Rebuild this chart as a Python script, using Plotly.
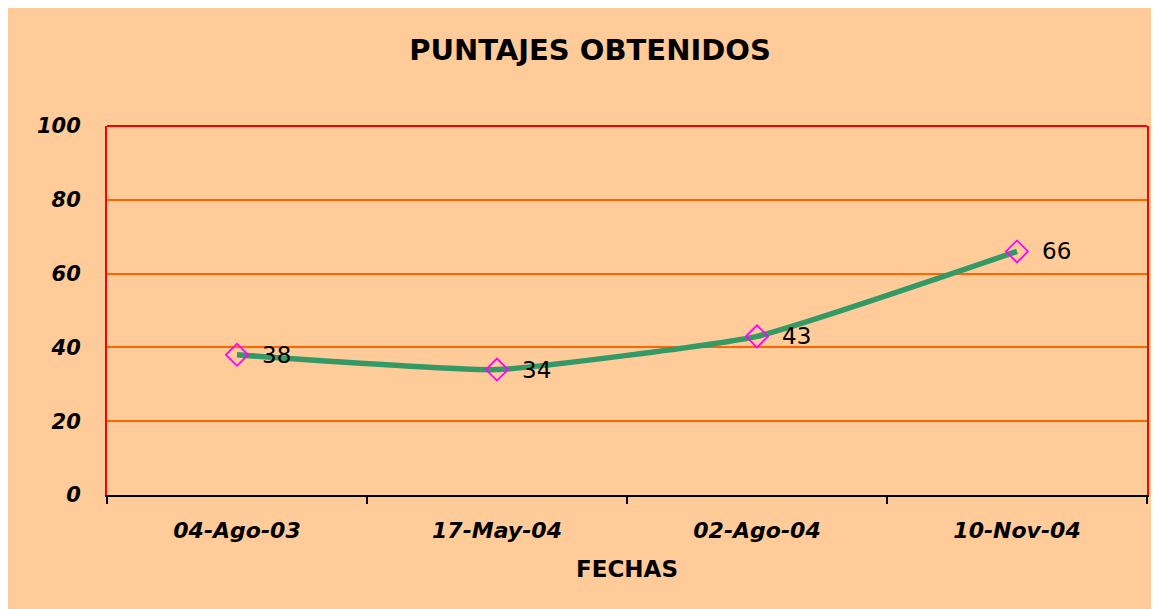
import plotly.graph_objects as go

fechas = ["04-Ago-03", "17-May-04", "02-Ago-04", "10-Nov-04"]
puntajes = [38, 34, 43, 66]
y_ticks = [0, 20, 40, 60, 80, 100]

ORANGE_BG = "#FFCC99"
FONT = "DejaVu Sans, Verdana, Arial"

# page body has an 8px margin; figure extends to the window edges
W, H = 1159, 609
L, T = 99, 118
R = W - 1139
B = H - 487

fig = go.Figure()
fig.add_trace(go.Scatter(
    x=fechas, y=puntajes,
    mode="lines+markers",
    line=dict(color="#339966", width=5.5, shape="spline", smoothing=0.4),
    marker=dict(symbol="diamond-open", size=17, color="#FF00FF", line=dict(width=1.8, color="#FF00FF")),
    cliponaxis=False,
    showlegend=False,
))

annotations = [
    dict(x=f, y=v, xref="x", yref="y", text=str(v), showarrow=False,
         xanchor="left", yanchor="middle", xshift=23, yshift=0,
         font=dict(family=FONT, size=23, color="black"))
    for f, v in zip(fechas, puntajes)
]

fig.update_layout(
    width=W, height=H,
    margin=dict(l=L, r=R, t=T, b=B),
    paper_bgcolor=ORANGE_BG,
    plot_bgcolor=ORANGE_BG,
    title=dict(
        text="<b>PUNTAJES OBTENIDOS</b>",
        x=(590 - 8) / W, xanchor="center", xref="container",
        y=1 - 42 / H, yanchor="middle", yref="container",
        font=dict(family=FONT, size=29, color="black"),
    ),
    font=dict(family=FONT, color="black"),
    annotations=annotations,
    xaxis=dict(
        type="category",
        tickson="boundaries",
        ticks="outside", ticklen=7, tickwidth=1.5, tickcolor="black",
        showline=True, linecolor="black", linewidth=2,
        showgrid=False,
        tickfont=dict(family=FONT, size=22, color="black", style="italic", weight="bold"),
        ticklabelstandoff=15,
        title=dict(text="<b>FECHAS</b>", font=dict(family=FONT, size=23, color="black"), standoff=18),
        range=[-0.5, 3.5],
        fixedrange=True,
    ),
    yaxis=dict(
        range=[0, 100],
        tickvals=y_ticks,
        showgrid=True, gridcolor="#FF6600", gridwidth=1.5,
        showline=True, linecolor="#FF0000", linewidth=2, mirror=True,
        ticks="",
        zeroline=False,
        tickfont=dict(family=FONT, size=21, color="black", style="italic", weight="bold"),
        ticklabelstandoff=20,
        fixedrange=True,
    ),
    shapes=[
        dict(type="line", xref="paper", yref="paper", x0=0, x1=1, y0=1, y1=1,
             line=dict(color="#FF0000", width=2), layer="above"),
    ],
)

fig.write_html("out.html")
